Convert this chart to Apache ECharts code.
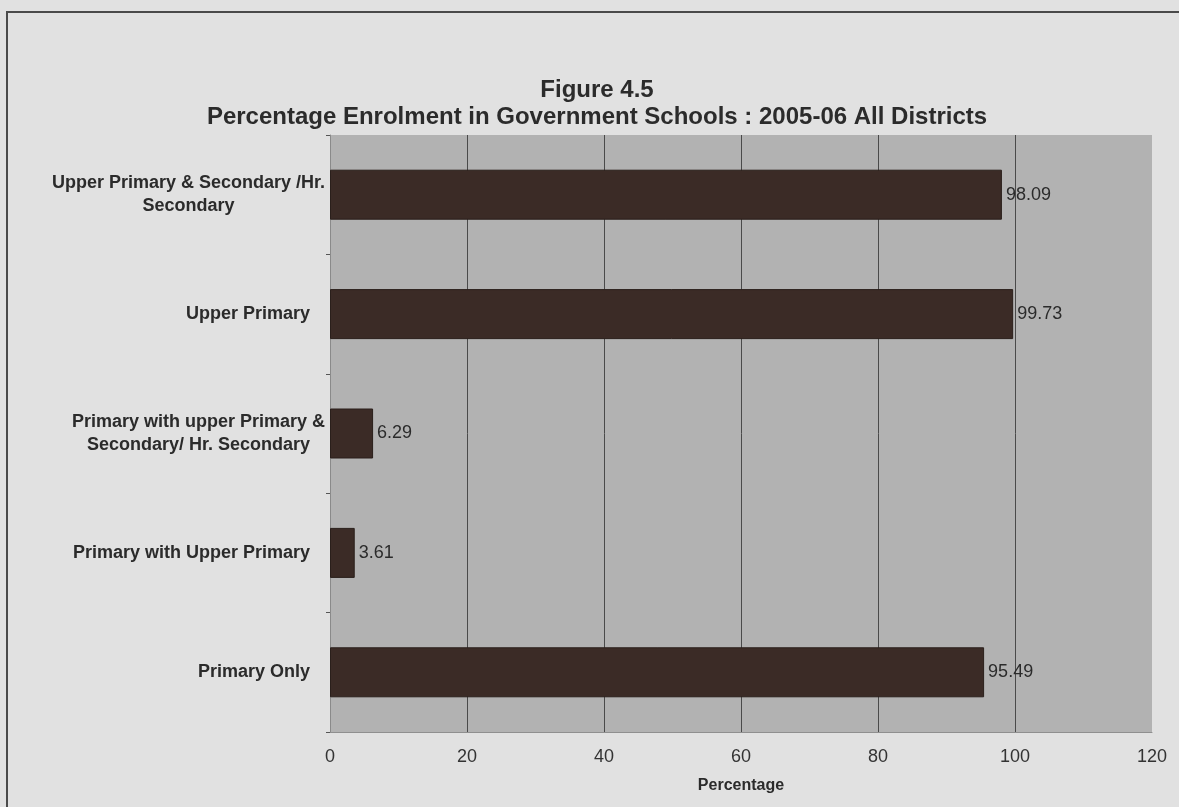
<!DOCTYPE html>
<html>
<head>
<meta charset="utf-8">
<script src="https://cdn.jsdelivr.net/npm/echarts@6/dist/echarts.min.js"></script>
<style>
  html, body { margin: 0; padding: 0; background: #e1e1e1; }
  #main { width: 1179px; height: 807px; }
</style>
</head>
<body>
<div id="main"></div>
<script>
// school categories, top to bottom
const categories = [
    'Upper Primary & Secondary /Hr.\nSecondary',
    'Upper Primary',
    'Primary with upper Primary &\nSecondary/ Hr. Secondary',
    'Primary with Upper Primary',
    'Primary Only'
]
const percentages = [98.09, 99.73, 6.29, 3.61, 95.49]
const xTicks = [0, 20, 40, 60, 80, 100, 120]

const chart = echarts.init(document.getElementById('main'))

// multi-line labels are centred line by line, single-line ones sit a bit further left
function catLabel(value) {
    let lines = value.split('\n')
    if (lines.length === 1) {
        return '{s|' + value + '}'
    }
    return lines.map(l => '{c|' + l + '}').join('\n')
}

const option = {
    backgroundColor: '#e1e1e1',
    textStyle: {fontFamily: 'Liberation Sans, Arial, sans-serif'},
    title: {
        text: 'Figure 4.5\nPercentage Enrolment in Government Schools : 2005-06 All Districts',
        left: 592,
        top: 72,
        textAlign: 'center',
        textStyle: {
            fontSize: 24,
            fontWeight: 'bold',
            color: '#2b2b2b',
            lineHeight: 27
        }
    },
    graphic: [{
        type: 'rect',
        shape: {x: 7, y: 12, width: 1400, height: 1000},
        style: {fill: 'none', stroke: '#4a4a4a', lineWidth: 2},
        silent: true
    }],
    grid: {
        left: 330,
        right: 27,
        top: 135,
        bottom: 75,
        show: true,
        backgroundColor: '#b2b2b2',
        borderWidth: 0
    },
    xAxis: {
        type: 'value',
        min: xTicks[0],
        max: xTicks[xTicks.length - 1],
        interval: 20,
        name: 'Percentage',
        nameLocation: 'middle',
        nameGap: 46,
        nameTextStyle: {fontSize: 16, fontWeight: 'bold', color: '#2b2b2b'},
        axisLine: {show: true, lineStyle: {color: '#8f8f8f'}},
        axisTick: {show: false},
        axisLabel: {fontSize: 18, color: '#333', margin: 16},
        splitLine: {show: true, showMinLine: false, showMaxLine: false, lineStyle: {color: '#4a4a4a', width: 1}}
    },
    yAxis: {
        type: 'category',
        data: categories,
        inverse: true,
        axisLine: {show: true, lineStyle: {color: '#8a8a8a'}},
        axisTick: {show: true, length: 4, lineStyle: {color: '#555'}},
        axisLabel: {
            margin: 5,
            fontSize: 18,
            fontWeight: 'bold',
            color: '#2b2b2b',
            formatter: catLabel,
            rich: {
                c: {fontSize: 18, fontWeight: 'bold', color: '#2b2b2b', align: 'center', lineHeight: 23},
                s: {fontSize: 18, fontWeight: 'bold', color: '#2b2b2b', padding: [0, 15, 0, 0]}
            }
        },
        splitLine: {show: false}
    },
    series: [{
        type: 'bar',
        data: percentages,
        barWidth: 50,
        itemStyle: {color: '#3b2b26', borderColor: '#2a1f1b', borderWidth: 1},
        label: {
            show: true,
            position: 'right',
            distance: 4,
            fontSize: 18,
            color: '#2b2b2b',
            formatter: p => p.value.toFixed(2)
        }
    }]
}

chart.setOption(option)
</script>
</body>
</html>
